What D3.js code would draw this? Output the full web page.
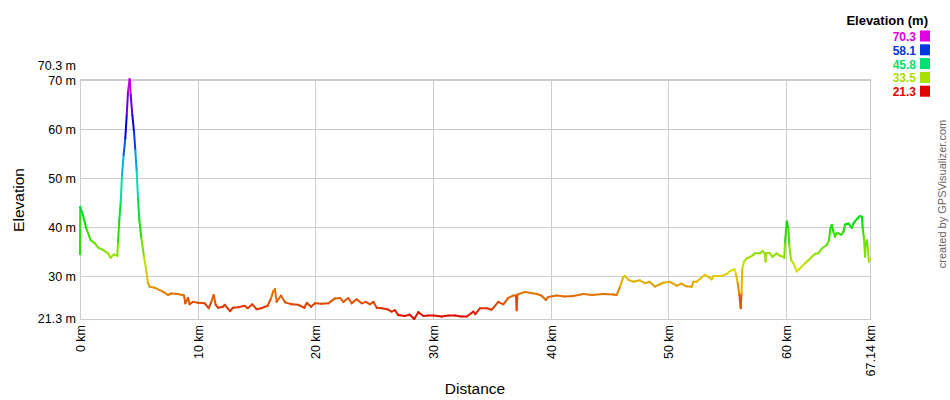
<!DOCTYPE html>
<html>
<head>
<meta charset="utf-8">
<script src="https://cdn.jsdelivr.net/npm/d3@7"></script>
<style>
  html, body { margin: 0; padding: 0; background: #fff; }
  svg { display: block; }
  text { font-family: Arial, "Liberation Sans", sans-serif; }
</style>
</head>
<body>
<svg id="chart" width="950" height="400"></svg>
<script>
// ---- Data ----
const distanceKm = [
  0, 0.02, 0.25, 0.54, 0.9, 1.25, 1.53, 1.95, 2.38, 2.6, 2.89, 3.17, 3.23, 3.34, 3.46, 3.57, 3.71, 3.85, 3.97, 4.08,
  4.22, 4.31, 4.45, 4.59, 4.70, 4.82, 4.93, 5.04, 5.21, 5.44, 5.64, 5.78, 5.92, 6.35, 6.77, 7.05, 7.48, 7.76, 8.33, 8.84,
  8.95, 9.18, 9.32, 9.6, 10.03, 10.6, 10.94, 11.16, 11.36, 11.53, 11.73, 12.15, 12.3, 12.75, 13.0, 13.45, 14.0, 14.25, 14.65, 15.0,
  15.4, 15.95, 16.23, 16.43, 16.57, 16.71, 17.08, 17.42, 17.99, 18.55, 19.07, 19.27, 19.63, 19.97, 20.54, 21.1, 21.67, 22.1, 22.38, 22.8,
  23.09, 23.5, 23.94, 24.3, 24.65, 24.93, 25.22, 25.64, 26.1, 26.49, 26.77, 27.05, 27.62, 28.0, 28.41, 28.75, 29.18, 29.6, 30.03, 30.74,
  31.3, 31.87, 32.4, 32.87, 33.43, 33.6, 34.0, 34.56, 35.0, 35.55, 35.98, 36.4, 36.83, 37.05, 37.11, 37.18, 37.82, 38.81, 39.2, 39.6,
  39.8, 40.51, 41.2, 41.93, 42.78, 43.5, 44.48, 45.33, 45.61, 45.9, 46.18, 46.32, 46.6, 47.03, 47.59, 48.02, 48.4, 48.87, 49.2, 49.57,
  50.15, 50.71, 51.1, 51.5, 51.99, 52.12, 52.41, 52.98, 53.12, 53.4, 53.69, 53.83, 54.54, 54.96, 55.24, 55.38, 55.61, 55.75, 55.9, 56.04,
  56.15, 56.22, 56.29, 56.43, 56.66, 56.9, 57.23, 57.36, 57.8, 58.0, 58.2, 58.27, 58.32, 58.6, 58.86, 59.2, 59.5, 59.77, 59.86, 59.92,
  60.06, 60.2, 60.28, 60.43, 60.63, 60.91, 61.1, 61.34, 61.62, 61.9, 62.19, 62.5, 62.75, 63.04, 63.46, 63.66, 63.77, 63.89, 64.03, 64.17,
  64.3, 64.45, 64.7, 64.88, 65.02, 65.3, 65.45, 65.59, 65.75, 66.09, 66.29, 66.45, 66.52, 66.63, 66.72, 66.78, 66.86, 66.95, 67.05, 67.14
];
const elevationM = [
  34.5, 44.2, 42.5, 39.8, 37.4, 36.8, 35.9, 35.4, 34.7, 33.8, 34.5, 34.2, 37.1, 41.5, 45.2, 50.7, 54.8, 58.2, 62.9, 67.7,
  70.3, 67.0, 62.9, 59.5, 55.8, 51.4, 45.9, 41.5, 37.8, 34.0, 31.0, 28.6, 27.9, 27.7, 27.2, 26.9, 26.2, 26.5, 26.4, 26.1,
  24.5, 25.6, 24.3, 24.8, 24.6, 24.5, 23.5, 24.8, 26.2, 24.2, 23.6, 23.8, 24.2, 22.9, 23.6, 23.7, 24.0, 23.5, 24.3, 23.3,
  23.5, 24.0, 25.5, 27.0, 27.4, 24.8, 26.1, 24.7, 24.3, 24.2, 23.6, 24.6, 23.8, 24.5, 24.4, 24.5, 25.5, 25.6, 24.8, 25.6,
  24.5, 25.3, 24.5, 24.8, 24.3, 24.8, 23.6, 23.5, 23.3, 22.8, 23.1, 22.1, 21.9, 22.2, 21.3, 22.7, 21.9, 22.0, 22.0, 21.8,
  22.0, 22.0, 21.8, 21.8, 22.8, 22.3, 23.5, 23.5, 23.2, 24.8, 24.3, 25.6, 26.1, 26.1, 23.1, 26.3, 26.8, 26.4, 26.1, 25.2,
  25.8, 26.1, 25.9, 26.0, 26.4, 26.2, 26.4, 26.3, 26.2, 27.9, 29.9, 30.1, 29.3, 28.9, 29.2, 28.6, 28.9, 27.9, 28.3, 28.7,
  28.9, 28.1, 28.5, 28.0, 27.9, 28.9, 28.9, 30.1, 30.3, 29.9, 29.4, 30.1, 30.1, 30.5, 31.1, 31.2, 31.5, 30.4, 28.6, 26.2,
  23.5, 26.5, 31.6, 33.0, 33.7, 33.9, 34.4, 34.7, 34.7, 35.2, 34.6, 33.0, 34.8, 34.8, 34.0, 34.7, 34.2, 34.0, 33.8, 37.1,
  41.2, 39.8, 36.4, 33.3, 32.7, 31.0, 31.4, 32.0, 32.7, 33.3, 34.0, 34.6, 34.7, 35.7, 36.4, 37.4, 39.8, 40.5, 39.1, 38.1,
  38.8, 38.8, 38.5, 39.1, 40.6, 40.8, 40.4, 39.9, 40.9, 41.9, 42.3, 42.2, 39.8, 37.8, 34.0, 36.5, 37.4, 35.8, 33.0, 33.5
];
const xTicks = [0, 10, 20, 30, 40, 50, 60];
const xTickLabels = ["0 km", "10 km", "20 km", "30 km", "40 km", "50 km", "60 km"];
const xMax = 67.14;
const xMaxLabel = "67.14 km";
const yTicks = [30, 40, 50, 60, 70];
const yTickLabels = ["30 m", "40 m", "50 m", "60 m", "70 m"];
const yMin = 21.3, yMax = 70.3;
const yMinLabel = "21.3 m", yMaxLabel = "70.3 m";
const legendValues = [70.3, 58.1, 45.8, 33.5, 21.3];
const legendTitle = "Elevation (m)";

// ---- Drawing ----
const svg = d3.select("#chart");
const x = d3.scaleLinear().domain([0, xMax]).range([80, 870]);
const y = d3.scaleLinear().domain([yMin, yMax]).range([319, 79]);
const hue = d3.scaleLinear().domain([yMin, yMax]).range([0, 300]);
const colorOf = v => d3.hsl(hue(v), 1, 0.44).formatHex();
const grid = "#cccccc";
const px = v => Math.round(v) + 0.5;

const g = svg.append("g");
// horizontal gridlines and borders
[...yTicks, yMin, yMax].forEach(v => {
  g.append("line").attr("x1", 80).attr("x2", 870)
    .attr("y1", px(y(v))).attr("y2", px(y(v)))
    .attr("stroke", grid).attr("stroke-width", 1);
});
// vertical gridlines and borders
[...xTicks, xMax].forEach(v => {
  g.append("line").attr("y1", y(yMax)).attr("y2", y(yMin) + 1)
    .attr("x1", px(x(v))).attr("x2", px(x(v)))
    .attr("stroke", grid).attr("stroke-width", 1);
});

// y labels
const yl = svg.append("g").attr("font-size", "12.5px").attr("fill", "#000").attr("text-anchor", "end");
yTicks.forEach((v, i) => {
  yl.append("text").attr("x", 76).attr("y", y(v)).attr("dy", "0.35em").text(yTickLabels[i]);
});
yl.append("text").attr("x", 76).attr("y", y(yMin)).attr("dy", "0.35em").text(yMinLabel);
yl.append("text").attr("x", 76).attr("y", y(yMax) - 13).attr("dy", "0.35em").text(yMaxLabel);

// x labels (rotated)
const xl = svg.append("g").attr("font-size", "12.5px").attr("fill", "#000").attr("text-anchor", "end");
const xAll = xTicks.map((v, i) => [v, xTickLabels[i]]).concat([[xMax, xMaxLabel]]);
xAll.forEach(([v, lab]) => {
  xl.append("text")
    .attr("transform", `translate(${x(v) + 0.5},${325}) rotate(-90)`)
    .attr("dy", "0.35em").text(lab);
});

// axis titles
svg.append("text").attr("x", 475).attr("y", 394).attr("text-anchor", "middle")
  .attr("font-size", "15.5px").text("Distance");
svg.append("text").attr("transform", "translate(24,200) rotate(-90)")
  .attr("text-anchor", "middle").attr("font-size", "15.5px").text("Elevation");

// profile line, coloured by elevation
const pts = distanceKm.map((d, i) => [d, elevationM[i]]);
const lg = svg.append("g").attr("stroke-width", 2).attr("stroke-linecap", "round").attr("fill", "none");
for (let i = 0; i < pts.length - 1; i++) {
  const a = pts[i], b = pts[i + 1];
  lg.append("line")
    .attr("x1", x(a[0])).attr("y1", y(a[1]))
    .attr("x2", x(b[0])).attr("y2", y(b[1]))
    .attr("stroke", colorOf((a[1] + b[1]) / 2));
}

// legend
const leg = svg.append("g");
leg.append("text").attr("x", 928).attr("y", 25).attr("text-anchor", "end")
  .attr("font-size", "13px").attr("font-weight", "bold").text(legendTitle);
legendValues.forEach((v, i) => {
  const base = 41 + i * 13.8;
  leg.append("text").attr("x", 916).attr("y", base).attr("text-anchor", "end")
    .attr("font-size", "12px").attr("font-weight", "bold").attr("fill", colorOf(v))
    .text(v.toFixed(1));
  leg.append("rect").attr("x", 920).attr("y", base - 10.5).attr("width", 10).attr("height", 11)
    .attr("fill", colorOf(v));
});

// credit
svg.append("text").attr("transform", "translate(946,194) rotate(-90)")
  .attr("text-anchor", "middle").attr("font-size", "11px").attr("fill", "#666")
  .text("created by GPSVisualizer.com");
</script>
</body>
</html>
